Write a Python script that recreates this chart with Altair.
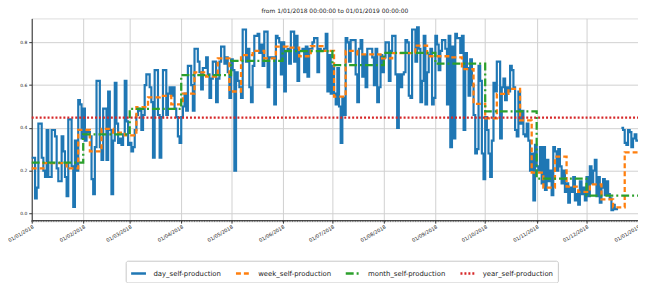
import altair as alt
import pandas as pd

series_names = ["day_self-production", "week_self-production",
                "month_self-production", "year_self-production"]
series_colors = ["#1f77b4", "#ff7f0e", "#2ca02c", "#d62728"]
series_dashes = [[1, 0], [5, 3], [8, 3, 2, 3], [2, 2]]

title_text = "from 1/01/2018 00:00:00 to 01/01/2019 00:00:00"

# daily values, read month by month (None = missing day)
day_jan = [0.26, 0.26, 0.07, 0.12, 0.42, 0.42, 0.26, 0.20, 0.17, 0.39, 0.17, 0.17,
           0.39, 0.39, 0.36, 0.21, 0.15, 0.15, 0.36, 0.29, 0.17, 0.08, 0.44, 0.44,
           0.22, 0.03, 0.34, 0.20, 0.53, 0.51, 0.35]
day_feb = [0.49, 0.34, 0.38, 0.38, 0.36, 0.16, 0.09, 0.31, 0.62, 0.62, 0.31, 0.25,
           0.49, 0.49, 0.25, 0.57, 0.39, 0.09, 0.34, 0.61, 0.42, 0.33, 0.35, 0.32,
           0.37, 0.62, 0.43, 0.32]
day_mar = [0.33, 0.29, 0.31, 0.39, 0.46, 0.49, 0.48, 0.39, 0.46, 0.60, 0.65, 0.65,
           0.59, 0.52, 0.26, 0.67, 0.67, 0.46, 0.26, 0.45, 0.67, 0.67, 0.46, 0.56,
           0.59, 0.55, 0.59, 0.49, 0.45, 0.36, 0.33]
day_apr = [0.45, 0.50, 0.56, 0.48, 0.69, 0.69, 0.60, 0.48, 0.77, 0.77, 0.71, 0.66,
           0.58, 0.68, 0.68, 0.73, 0.65, 0.54, 0.63, 0.71, 0.71, 0.52, 0.63, 0.71,
           0.78, 0.78, 0.70, 0.73, 0.66, 0.54]
day_may = [0.72, 0.67, 0.20, 0.66, 0.62, 0.59, 0.54, 0.86, 0.86, 0.71, 0.77, 0.59,
           0.52, 0.69, 0.83, 0.83, 0.84, 0.75, 0.79, 0.69, 0.85, 0.85, 0.59, 0.73,
           0.73, 0.73, 0.51, 0.83, 0.82, 0.80, 0.65]
day_jun = [0.80, 0.57, 0.76, 0.77, 0.70, 0.85, 0.85, 0.71, 0.83, 0.62, 0.76, 0.76,
           0.77, 0.66, 0.78, 0.64, 0.77, 0.77, 0.80, 0.82, 0.82, 0.66, 0.77, 0.76,
           0.76, 0.77, 0.84, 0.57, 0.74, 0.56]
day_jul = [0.69, 0.56, 0.51, 0.68, 0.50, 0.33, 0.54, 0.46, 0.82, 0.80, 0.71, 0.81,
           0.81, 0.81, 0.65, 0.52, 0.77, 0.81, 0.64, 0.74, 0.59, 0.77, 0.77, 0.77,
           0.73, 0.60, 0.77, 0.52, 0.59, 0.74, 0.66]
day_aug = [0.73, 0.80, 0.80, 0.62, 0.76, 0.83, 0.83, 0.65, 0.40, 0.65, 0.59, 0.65,
           0.66, 0.81, 0.80, 0.55, 0.54, 0.86, 0.86, 0.71, 0.87, 0.77, 0.52, 0.62,
           0.83, 0.51, 0.66, 0.74, 0.77, 0.51, 0.54]
day_sep = [0.83, 0.79, 0.67, 0.76, 0.81, 0.81, 0.77, 0.51, 0.83, 0.31, 0.78, 0.35,
           0.84, 0.82, 0.82, 0.75, 0.83, 0.39, 0.75, 0.68, 0.55, 0.72, 0.60, 0.46,
           0.28, 0.30, 0.69, 0.62, 0.28, 0.16]
day_oct = [0.45, 0.39, 0.28, 0.17, 0.34, 0.61, 0.57, 0.71, 0.71, 0.35, 0.59, 0.63,
           0.53, 0.59, 0.57, 0.69, 0.67, 0.59, 0.39, 0.36, 0.57, 0.42, 0.48, 0.37,
           0.36, 0.42, 0.34, 0.20, 0.28, 0.06, 0.32]
day_nov = [0.22, 0.20, 0.31, 0.14, 0.31, 0.11, 0.25, 0.15, 0.20, 0.085, 0.31, 0.29,
           0.20, 0.30, 0.22, 0.14, 0.20, 0.10, 0.14, 0.05, 0.12, 0.10, 0.17, 0.06,
           0.09, 0.04, 0.15, 0.09, 0.12, 0.06]
day_dec = [0.17, 0.08, 0.22, 0.14, 0.20, 0.25, 0.08, 0.17, 0.05, 0.12, 0.16, 0.085,
           0.15, 0.09, 0.07, 0.015, 0.04, 0.02, 0.02, None, None, 0.40, 0.39, 0.33,
           0.32, 0.39, 0.38, 0.31, 0.35, 0.37, 0.34]

week_values = [0.21, 0.235, 0.235, 0.21, 0.39, 0.29, 0.395, 0.378, 0.365, 0.497,
               0.543, 0.55, 0.51, 0.56, 0.66, 0.64, 0.725, 0.57, 0.74, 0.76,
               0.725, 0.78, 0.775, 0.735, 0.782, 0.76, 0.546, 0.76, 0.744, 0.744,
               0.725, 0.75, 0.75, 0.785, 0.735, 0.735, 0.73, 0.675, 0.512, 0.444,
               0.559, 0.582, 0.435, 0.19, 0.12, 0.265, 0.125, 0.10, 0.135, 0.065,
               0.028, 0.285, 0.285]

month_values = [0.237, 0.369, 0.489, 0.647, 0.713, 0.759, 0.693, 0.751, 0.70,
                0.477, 0.162, 0.083]

year_value = 0.448

day_values = (day_jan + day_feb + day_mar + day_apr + day_may + day_jun +
              day_jul + day_aug + day_sep + day_oct + day_nov + day_dec)

start = pd.Timestamp("2018-01-01")
end = pd.Timestamp("2019-01-01")


def iso(ts):
    return ts.strftime("%Y-%m-%dT%H:%M:%S")


# daily rows, split into runs around missing days
runs, cur = [], []
for i, v in enumerate(day_values):
    if v is None:
        if cur:
            runs.append(cur)
            cur = []
    else:
        cur.append((i, v))
if cur:
    runs.append(cur)

day_rows = []
for k, run in enumerate(runs):
    for i, v in run:
        day_rows.append({"date": iso(start + pd.Timedelta(days=i)), "value": v,
                         "series": series_names[0], "seg": k})
    li, lv = run[-1]
    day_rows.append({"date": iso(start + pd.Timedelta(days=li + 1)), "value": lv,
                     "series": series_names[0], "seg": k})
day_df = pd.DataFrame(day_rows)

week_rows = [{"date": iso(start + pd.Timedelta(days=7 * k)), "value": v,
              "series": series_names[1]} for k, v in enumerate(week_values)]
week_rows.append({"date": iso(end), "value": week_values[-1], "series": series_names[1]})
week_df = pd.DataFrame(week_rows)

month_rows = [{"date": iso(pd.Timestamp(year=2018, month=m + 1, day=1)), "value": v,
               "series": series_names[2]} for m, v in enumerate(month_values)]
month_rows.append({"date": iso(end), "value": month_values[-1], "series": series_names[2]})
month_df = pd.DataFrame(month_rows)

year_df = pd.DataFrame([
    {"date": iso(start), "value": year_value, "series": series_names[3]},
    {"date": iso(end), "value": year_value, "series": series_names[3]},
])

minor_df = pd.DataFrame({"date": [iso(start + pd.Timedelta(days=i)) for i in range(366)]})

month_ticks = [alt.DateTime(year=2018, month=m, date=1) for m in range(1, 13)] + \
              [alt.DateTime(year=2019, month=1, date=1)]

W, H = 613, 204

xscale = alt.Scale(domain=[alt.DateTime(year=2018, month=1, date=1),
                           alt.DateTime(year=2019, month=1, date=1)], nice=False)
yscale = alt.Scale(domain=[-0.032, 0.912], nice=False, zero=False)

xaxis = alt.Axis(values=month_ticks, format="%d/%m/%Y", labelAngle=330,
                 labelAlign="right", labelBaseline="top", labelFontSize=5,
                 labelPadding=1, tickSize=3, labelOverlap=False, labelFlush=False,
                 title=None, grid=True, gridColor="#d0d0d0", gridWidth=1,
                 domainColor="#333333", tickColor="#333333", labelColor="#222222")
yaxis = alt.Axis(values=[0, 0.2, 0.4, 0.6, 0.8], format=".1f", labelFontSize=4.5,
                 labelPadding=2, tickSize=3, title=None, grid=True,
                 gridColor="#d0d0d0", gridWidth=1, domainColor="#333333",
                 tickColor="#333333", labelColor="#222222")

legend = alt.Legend(title=None, orient="none", legendX=95, legendY=245,
                    direction="horizontal", columns=4, symbolType="stroke",
                    symbolSize=225, symbolStrokeWidth=2.5, labelFontSize=7,
                    labelFont="DejaVu Sans", columnPadding=9, labelOffset=6,
                    padding=4, strokeColor="#c8c8c8", fillColor="white",
                    cornerRadius=2, labelColor="#222222")

cscale = alt.Scale(domain=series_names, range=series_colors)
dscale = alt.Scale(domain=series_names, range=series_dashes)


def enc(extra=None):
    e = dict(
        x=alt.X("date:T", scale=xscale, axis=xaxis),
        y=alt.Y("value:Q", scale=yscale, axis=yaxis),
        color=alt.Color("series:N", scale=cscale, legend=legend),
        strokeDash=alt.StrokeDash("series:N", scale=dscale, legend=legend),
    )
    if extra:
        e.update(extra)
    return e


day_layer = alt.Chart(day_df).mark_line(interpolate="step-after", strokeWidth=2.2).encode(
    **enc({"detail": "seg:N"}))
week_layer = alt.Chart(week_df).mark_line(interpolate="step-after", strokeWidth=2.3).encode(**enc())
month_layer = alt.Chart(month_df).mark_line(interpolate="step-after", strokeWidth=2.3).encode(**enc())
year_layer = alt.Chart(year_df).mark_line(strokeWidth=2.3).encode(**enc())

minor_layer = alt.Chart(minor_df).mark_rule(color="#333333", strokeWidth=0.6).encode(
    x=alt.X("date:T", scale=xscale, axis=xaxis),
    y=alt.value(H), y2=alt.value(H + 2))

chart = alt.layer(minor_layer, day_layer, week_layer, month_layer, year_layer).properties(
    width=W, height=H,
    title=alt.TitleParams(title_text, fontSize=6, font="DejaVu Sans", fontWeight="normal",
                          anchor="middle", offset=4, color="#222222"),
    autosize=alt.AutoSizeParams(type="none"),
    padding={"left": 24, "top": 9, "right": 0, "bottom": 62},
).configure_view(stroke="#555555", strokeWidth=0.8).configure(font="DejaVu Sans")

chart.save("out.html", embed_options={"renderer": "svg", "actions": False})
